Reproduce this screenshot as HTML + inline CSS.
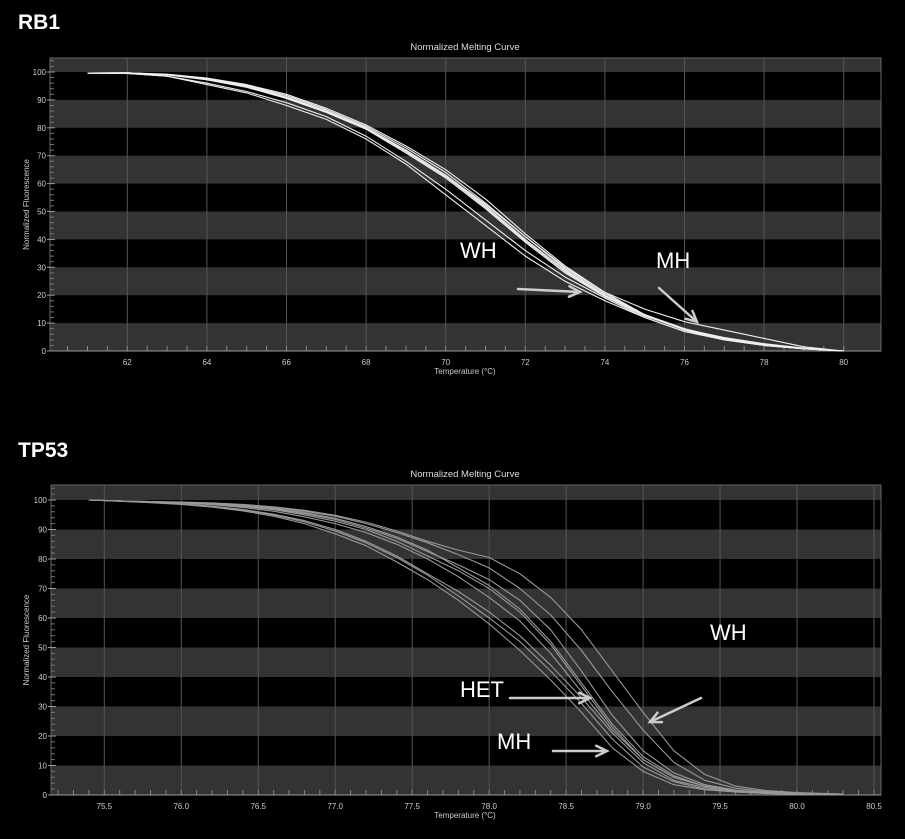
<!DOCTYPE html>
<html><head><meta charset="utf-8">
<style>
html,body{margin:0;padding:0;background:#000;width:905px;height:839px;overflow:hidden}
svg{display:block}
text{font-family:"Liberation Sans",sans-serif}
</style></head>
<body>
<svg id="s" width="905" height="839" viewBox="0 0 905 839">
<text x="18" y="29" fill="#fff" font-size="21" font-weight="bold">RB1</text>
<text x="18" y="457" fill="#fff" font-size="21" font-weight="bold">TP53</text>
</svg>
<script>
// ---- RB1 data ----
const rbTemps=[61,62,63,64,65,66,67,68,69,70,71,72,73,74,75,76,77,78,79,80];
const rbA=[99.6,99.7,99,97.5,95,91,86,80,72,63,52,40,29,20,13,8,4.5,2.5,1,0];
const rbB=[99.6,99.7,99.2,97.8,95.5,92,87,81,73.5,65,54.5,42,30.5,21,13,7.5,4,2,0.8,0];
const rbC=[99.6,99.6,99,97.2,94.5,90.5,85.5,79.5,71,62,51,39,28,19.5,12.5,7.8,4.8,2.6,1,0];
const rbD=[99.6,99.5,98.5,96,93,89,84,77,68,58,47,36,26.5,19,12,7,4,2,0.8,0];
const rbE=[99.6,99.5,98.5,95.5,92.5,88,83,76,67,56,45,34,25,18,12,7,4,2,0.8,0];
const rbF=[99.6,99.7,99,97.4,95,91,86,80,72,63,52.5,41,30,21,15,10.5,7.5,4.5,1.5,0];
const rbG=[99.6,99.7,99.1,97.6,95.3,91.5,86.5,80.5,72.8,64,53,41,29.5,20.5,13,7.8,4.3,2.2,0.9,0];
const rbH=[99.6,99.6,99,97.3,94.8,90.8,85.8,79.8,71.5,62.5,51.5,39.5,28.5,19.8,12.8,7.6,4.4,2.4,0.9,0];
const rbXTicks=[62,64,66,68,70,72,74,76,78,80];
// ---- TP53 data ----
const tpTemps=[75.4,75.6,75.8,76.0,76.2,76.4,76.6,76.8,77.0,77.2,77.4,77.6,77.8,78.0,78.2,78.4,78.6,78.8,79.0,79.2,79.4,79.6,79.8,80.0,80.3];
const tpWH1=[100,99.7,99.5,99.3,99,98.5,97.7,96.5,94.8,92.5,89.5,86,83,80.5,75,67,56,42,28,15,7,3,1.5,0.8,0.3];
const tpWH2=[100,99.7,99.5,99.2,98.9,98.3,97.5,96.2,94.5,92,89,85.5,81.5,77,70,61,49,35,22,11,5,2.3,1.2,0.6,0.2];
const tpHET1=[100,99.7,99.4,99.2,98.8,98.2,97.2,95.8,93.8,91,87.5,83,77,71,63,52,38,24,13,6.5,3,1.5,0.8,0.4,0.2];
const tpHET2=[100,99.7,99.4,99.1,98.6,97.8,96.7,95,92.8,90,86,81,76,70,62,51,37,23,12,6,3,1.5,0.8,0.4,0.2];
const tpHET3=[100,99.7,99.4,99.1,98.6,97.9,96.9,95.4,93.4,90.5,87,82.5,78,73,66,56,42,27,15,7.5,3.5,1.7,0.9,0.4,0.2];
const tpHET4=[100,99.7,99.4,99.0,98.4,97.5,96.2,94.3,92,89,85,80,74,67,59,48,35,22,12,6,3,1.5,0.8,0.4,0.2];
const tpMH1=[100,99.6,99.2,98.7,97.9,96.8,95.2,93,90,86,81,75,69,62,54,44,33,21,11,5,2.5,1.2,0.6,0.3,0.1];
const tpMH2=[100,99.6,99.1,98.5,97.6,96.3,94.5,92,88.5,84.5,79,73,66,58,49,39,28,16,8,3.5,1.8,1,0.5,0.3,0.1];
const tpMH3=[100,99.6,99.2,98.6,97.8,96.6,94.9,92.6,89.5,85.5,80.5,74.5,67.5,60,52,42,31,19,9.5,4.5,2,1,0.5,0.3,0.1];
const tpXTicks=[75.5,76.0,76.5,77.0,77.5,78.0,78.5,79.0,79.5,80.0,80.5];
const yTicks=[0,10,20,30,40,50,60,70,80,90,100];

const NS="http://www.w3.org/2000/svg";
const svg=document.getElementById('s');
function mk(tag,attrs,parent){const e=document.createElementNS(NS,tag);for(const k in attrs)e.setAttribute(k,attrs[k]);(parent||svg).appendChild(e);return e;}

function panel(cfg){
  const g=mk('g',{});
  
  
  const sx=v=>cfg.x0px+(v-cfg.x0)*(cfg.x1px-cfg.x0px)/(cfg.x1-cfg.x0);
  const sy=v=>cfg.y0px-v*(cfg.y0px-cfg.y100px)/100;
  const L=cfg.left,R=cfg.right,T=cfg.top,B=sy(0);
  mk('rect',{x:L,y:T,width:R-L,height:B-T,fill:'#000'},g);
  // bands
  const bandTops=[105,90,70,50,30,10];
  for(const bt of bandTops){
    const top=Math.max(sy(bt),T), bot=sy(bt-10>=0?(bt===105?100:bt-10):0);
    const r=mk('rect',{x:L,y:top,width:R-L,height:bot-top,fill:'#333'},g);
    
    
  }
  mk('rect',{x:L,y:T,width:R-L,height:B-T,fill:'none',stroke:'#666','stroke-width':1},g);
  // vertical grid
  for(const t of cfg.xTicks){
    const x=sx(t);
    mk('line',{x1:x,y1:T,x2:x,y2:B,stroke:'#555','stroke-width':1},g);
    const lb=mk('text',{x:x,y:B+14,fill:'#ccc','font-size':8,'text-anchor':'middle'},g);
    lb.textContent=cfg.fmt(t);
    
    
  }
  // minor x ticks
  for(let v=cfg.xMinorStart;v<=cfg.x1+1e-6;v+=cfg.xMinor){
    const x=sx(v); if(x<L||x>R)continue;
    mk('line',{x1:x,y1:B,x2:x,y2:B-5,stroke:'#888','stroke-width':1},g);
  }
  // y ticks
  for(const t of yTicks){
    const y=sy(t);
    mk('line',{x1:L-3,y1:y,x2:L+5,y2:y,stroke:'#999','stroke-width':1},g);
    const lb=mk('text',{x:L-4,y:y+3,fill:'#ccc','font-size':8,'text-anchor':'end'},g);
    lb.textContent=t;
    
    
  }
  for(let v=2;v<105;v+=2){ if(v%10===0)continue; const y=sy(v); mk('line',{x1:L,y1:y,x2:L+4,y2:y,stroke:'#777','stroke-width':1},g);}
  mk('line',{x1:L,y1:B,x2:R,y2:B,stroke:'#999'},g);
  // titles
  const ti=mk('text',{x:465,y:T-8,fill:'#ddd','font-size':9.5,'text-anchor':'middle'},g);
  ti.textContent='Normalized Melting Curve';
  
  
  const xt=mk('text',{x:465,y:B+23,fill:'#ccc','font-size':8,'text-anchor':'middle'},g);
  xt.textContent='Temperature (°C)';
  
  
  const cy=(T+B)/2;
  const yt=mk('text',{x:29,y:cy,fill:'#ccc','font-size':8,'text-anchor':'middle',transform:`rotate(-90 29 ${cy})`},g);
  yt.textContent='Normalized Fluorescence';
  
  
  // series
  cfg.series.forEach((s,i)=>{
    const d=cfg.temps.map((t,j)=>(j?'L':'M')+sx(t).toFixed(1)+','+sy(s[j]).toFixed(1)).join(' ');
    const p=mk('path',{d:d,fill:'none',stroke:cfg.color,'stroke-width':cfg.sw,'stroke-linejoin':'round'},g);
    
    
  });
}

panel({name:'rb1-chart',left:50,right:881,top:58,x0:62,x1:80,x0px:127.3,x1px:843.7,y0px:351,y100px:72,
  xTicks:rbXTicks,xMinor:0.5,xMinorStart:60.5,fmt:t=>t,temps:rbTemps,
  series:[rbA,rbB,rbC,rbD,rbE,rbF,rbG,rbH],color:'#eee',sw:1.1});
panel({name:'tp53-chart',left:51,right:881,top:485,x0:75.5,x1:80.5,x0px:104.3,x1px:874,y0px:795,y100px:500,
  xTicks:tpXTicks,xMinor:0.1,xMinorStart:75.2,fmt:t=>t.toFixed(1),temps:tpTemps,
  series:[tpWH1,tpWH2,tpHET1,tpHET2,tpHET3,tpHET4,tpMH1,tpMH2,tpMH3],color:'#999',sw:1.1});

// annotations
function label(txt,x,y,name){const t=mk('text',{x:x,y:y,fill:'#fff','font-size':22});t.textContent=txt;
  
  }
function arrow(x1,y1,x2,y2,name){
  const g=mk('g',{stroke:'#ccc','stroke-width':2.5,fill:'none','stroke-linecap':'round'});
  
  
  mk('line',{x1,y1,x2,y2},g);
  const a=Math.atan2(y2-y1,x2-x1),h=12;
  mk('polyline',{points:`${x2-h*Math.cos(a-0.45)},${y2-h*Math.sin(a-0.45)} ${x2},${y2} ${x2-h*Math.cos(a+0.45)},${y2-h*Math.sin(a+0.45)}`},g);
}
label('WH',460,258,'rb1-wh-label'); arrow(518,289,580,292,'rb1-wh-arrow');
label('MH',656,268,'rb1-mh-label'); arrow(659,288,697,322,'rb1-mh-arrow');
label('WH',710,640,'tp53-wh-label'); arrow(701,698,650,722,'tp53-wh-arrow');
label('HET',460,697,'tp53-het-label'); arrow(510,698,590,698,'tp53-het-arrow');
label('MH',497,749,'tp53-mh-label'); arrow(553,751,607,751,'tp53-mh-arrow');
</script>
</body></html>
